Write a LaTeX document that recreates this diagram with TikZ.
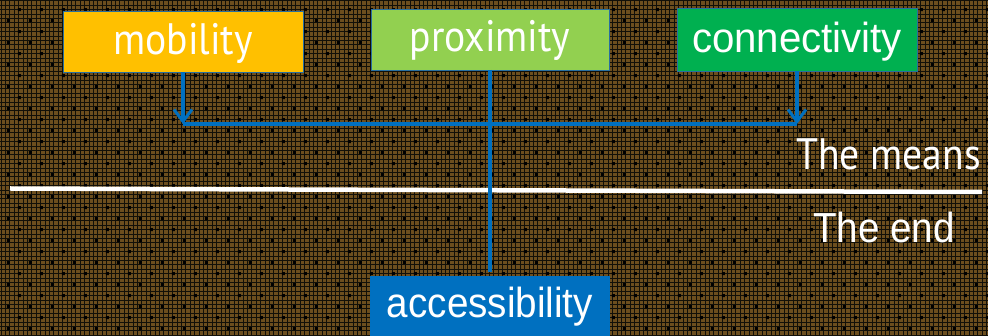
\documentclass[tikz,border=0pt]{standalone}
\usepackage{fontspec}
\setmainfont{PT Sans}
\newfontfamily\humfont{PT Sans}[FakeStretch=0.9]
\newfontfamily\narfont{Liberation Sans}[FakeStretch=0.92]
\usetikzlibrary{arrows.meta}

\definecolor{bgbrown}{RGB}{108,78,30}
\definecolor{thread}{RGB}{18,16,8}
\definecolor{mobcol}{RGB}{255,192,0}
\definecolor{proxcol}{RGB}{146,208,80}
\definecolor{concol}{RGB}{0,176,80}
\definecolor{acccol}{RGB}{0,112,192}
\definecolor{linkcol}{RGB}{0,112,192}
\definecolor{edgecol}{RGB}{40,110,160}

\tikzset{
  goalbox/.style={draw=edgecol, line width=0.8pt, inner sep=0pt, outer sep=0pt,
    align=center, text=white},
  humtext/.style={font=\humfont\fontsize{44}{44}\selectfont},
  nartext/.style={font=\narfont\fontsize{42}{42}\selectfont},
  link/.style={draw=linkcol, line width=4pt},
  barb/.style={-{Straight Barb[length=12pt,width=18pt,line width=3pt]}},
  sidelabel/.style={anchor=base east, inner sep=0pt, text=white},
}

\begin{document}
\begin{tikzpicture}[x=1pt, y=-1pt]
\useasboundingbox (0,0) rectangle (988,336);

% woven background with a staggered dot grid
\fill[bgbrown] (0,0) rectangle (988,336);
\draw[thread, line width=1pt] \foreach \i in {0,...,225} {({\i*4.4+1},0) -- ({\i*4.4+1},336)};
\draw[thread, line width=1pt] \foreach \j in {0,...,77} {(0,{\j*4.4+1}) -- (988,{\j*4.4+1})};
\fill[black] \foreach \k in {0,...,30} { \foreach \i in {0,...,45} {
  ({19.3-11*mod(\k,2)+22*\i-1.5},{9.7+11*\k-1.5}) rectangle ++(3,3) } };

% the three means and the end
\node[goalbox, humtext, fill=mobcol, minimum width=240pt, text width=240pt,
      text height=44pt, text depth=17pt, anchor=north west] (mob) at (63,11) {mobility};
\node[goalbox, humtext, fill=proxcol, minimum width=238pt, text width=238pt,
      text height=43pt, text depth=18pt, anchor=north west] (prox) at (371,9) {proximity};
\node[goalbox, nartext, fill=concol, minimum width=240pt, text width=240pt,
      text height=45pt, text depth=18pt, anchor=north west] (con) at (677,8)
      {\scalebox{1.04}[1]{connectivity}};
\node[goalbox, nartext, draw=none, fill=acccol, minimum width=240pt, text width=240pt,
      text height=42pt, text depth=18pt, anchor=north west] (acc) at (370,276) {accessibility};

% divider between means and end
\coordinate (divl) at (10,188.5);
\coordinate (divr) at (982,192);
\draw[white, line width=4.5pt] (divl) -- (divr);

\node[sidelabel, humtext] (means) at (981,170) {The means};
\node[sidelabel, nartext] (endlbl) at (955,243) {The end};

% connectors
\coordinate (mobj) at (mob.south |- 0,124);
\coordinate (conj) at (con.south |- 0,124);
\draw[link, barb] (mob.south) -- (mobj);
\draw[link, barb] (con.south) -- (conj);
\draw[link] (mobj) -- (conj);
\draw[link, shorten >=4pt] (prox.south) -- (acc.north);
\end{tikzpicture}
\end{document}
